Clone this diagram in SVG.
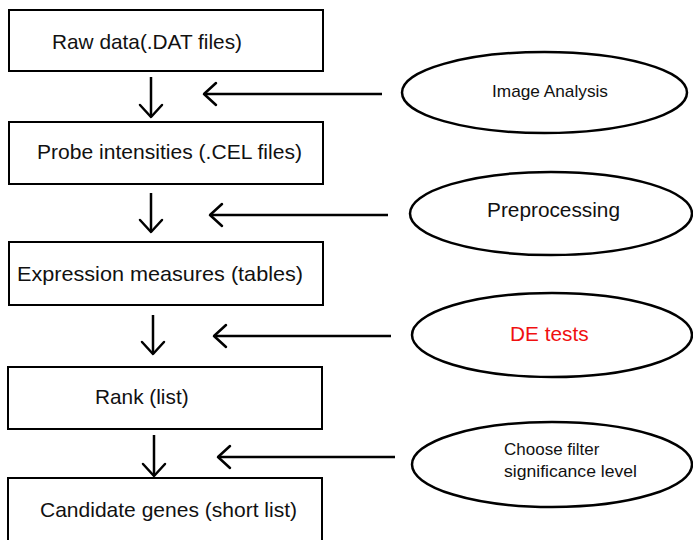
<svg xmlns="http://www.w3.org/2000/svg" width="693" height="540" viewBox="0 0 693 540">
<style>
.box{fill:#fff;stroke:#000;stroke-width:2}
.ell{fill:#fff;stroke:#000;stroke-width:2.5}
.t{font-family:"Liberation Sans",Arial,sans-serif;font-size:20.8px;fill:#111}
.ts{font-family:"Liberation Sans",Arial,sans-serif;font-size:17px;fill:#111}
.red{fill:#f01010}
.conn{fill:none;stroke:#000;stroke-width:2.5;marker-end:url(#ah)}
</style>
<defs>
<marker id="ah" markerUnits="userSpaceOnUse" markerWidth="30" markerHeight="30" viewBox="-15 -15 30 30" refX="0" refY="0" orient="auto" overflow="visible">
<path d="M -12 -11 L 0 0 L -12 11" fill="none" stroke="#000" stroke-width="2.5" stroke-linecap="round" stroke-linejoin="round"/>
</marker>
</defs>
<rect width="693" height="540" fill="#fff"/>
<g id="raw"><rect class="box" x="9" y="10" width="314" height="61"/><text class="t" x="52" y="49" textLength="190" lengthAdjust="spacingAndGlyphs">Raw data(.DAT files)</text></g>
<g id="probe"><rect class="box" x="9" y="122" width="314" height="62"/><text class="t" x="37" y="159" textLength="265" lengthAdjust="spacingAndGlyphs">Probe intensities (.CEL files)</text></g>
<g id="expr"><rect class="box" x="9" y="242" width="314" height="63"/><text class="t" x="17" y="281" textLength="286" lengthAdjust="spacingAndGlyphs">Expression measures (tables)</text></g>
<g id="rank"><rect class="box" x="8" y="367" width="314" height="62"/><text class="t" x="95" y="404">Rank (list)</text></g>
<g id="cand"><rect class="box" x="8" y="478" width="314" height="70"/><text class="t" x="40" y="517" textLength="257" lengthAdjust="spacingAndGlyphs">Candidate genes (short list)</text></g>
<g id="image"><ellipse class="ell" cx="544.5" cy="92.5" rx="142.5" ry="40.5"/><text class="ts" x="492" y="97" textLength="116" lengthAdjust="spacingAndGlyphs">Image Analysis</text></g>
<g id="prep"><ellipse class="ell" cx="551" cy="213.5" rx="141" ry="41.5"/><text class="t" x="487" y="217" textLength="133" lengthAdjust="spacingAndGlyphs">Preprocessing</text></g>
<g id="de"><ellipse class="ell" cx="552" cy="335" rx="140" ry="42"/><text class="t red" x="510" y="341">DE tests</text></g>
<g id="filter"><ellipse class="ell" cx="552" cy="464.5" rx="140" ry="42.5"/><text class="ts" x="504" y="455">Choose filter</text><text class="ts" x="504" y="477" textLength="133" lengthAdjust="spacingAndGlyphs">significance level</text></g>
<g id="connectors">
<path class="conn" d="M151 77 V117"/>
<path class="conn" d="M151 193 V232"/>
<path class="conn" d="M153 315 V354"/>
<path class="conn" d="M154 435 V476"/>
<path class="conn" d="M382 94 H204"/>
<path class="conn" d="M388 215 H210"/>
<path class="conn" d="M391 336 H214"/>
<path class="conn" d="M395 457 H218"/>
</g>
</svg>
